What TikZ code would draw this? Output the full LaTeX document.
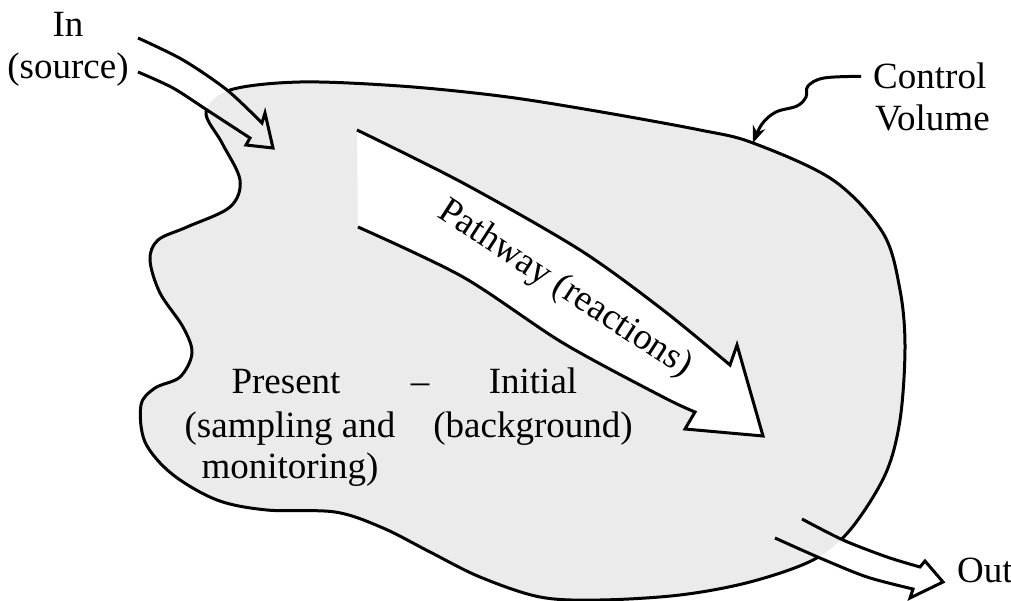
\documentclass[tikz,border=0pt]{standalone}
\usepackage{fontspec}
\setmainfont{Liberation Serif}
\usetikzlibrary{arrows.meta}
\definecolor{cvfill}{HTML}{EBEBEB}
\tikzset{
  outl/.style={line width=3pt, line join=miter, line cap=butt},
  txt/.style={font=\fontsize{37}{44}\selectfont, inner sep=0pt},
  pointer/.style={line width=3pt, -{Stealth[length=17pt,width=13pt]}},
}
\def\blobpath{plot[smooth cycle, tension=0.55] coordinates {
 (230,90) (300,82) (400,86) (500,96) (590,110) (700,130) (753,143) (833,180)
 (883,233) (900,290) (905,347) (900,420) (885,475) (850,530) (813,560) (750,582)
 (680,595) (600,600) (540,597) (480,577) (430,552) (383,528) (335,512) (267,510)
 (217,500) (172,474) (145,442) (141,405) (155,388) (180,377) (192,353) (183,327)
 (160,293) (150,260) (158,240) (187,227) (230,207) (240,180) (222,143) (206,112)}}
\def\inarrow{plot[smooth] coordinates {(138,38) (183,60) (227,90) (262,123)}
 -- (265,113) -- (273,148) -- (246,145) -- (250,138)
 -- plot[smooth] coordinates {(250,138) (207,110) (173,88) (138,72)}}
\def\outarrow{plot[smooth] coordinates {(802,519) (843,540) (887,557) (920,567)}
 -- (925,561) -- (943,582) -- (910,598) -- (913,589)
 -- plot[smooth] coordinates {(913,589) (867,577) (820,558) (775,538)}}
\def\bigarrow{plot[smooth] coordinates {(357,130) (463,183) (580,250) (663,310) (730,365)}
 -- (737,345) -- (763,436) -- (685,429) -- (695,412)
 -- plot[smooth] coordinates {(695,412) (663,397) (563,343) (463,277) (358,227)}}
\begin{document}
\begin{tikzpicture}[x=1pt,y=-1pt]
\useasboundingbox (0,0) rectangle (1011,601);
% control volume
\fill[cvfill] \blobpath;
\draw[outl] \blobpath;
% in arrow
\fill[white] \inarrow -- cycle;
\begin{scope}
 \clip \blobpath;
 \fill[cvfill] \inarrow -- cycle;
\end{scope}
\draw[outl] \inarrow;
% out arrow
\fill[white] \outarrow -- cycle;
\begin{scope}
 \clip \blobpath;
 \fill[cvfill] \outarrow -- cycle;
\end{scope}
\draw[outl] \outarrow;
% pathway arrow
\fill[white] \bigarrow -- cycle;
\draw[outl] \bigarrow;
% texts
\node[txt, anchor=base] (in) at (68,37) {In};
\node[txt, anchor=base] (src) at (68,79) {(source)};
\node[txt, anchor=base west, inner xsep=12pt] (ctrl) at (861,89) {Control};
\node[txt, anchor=base west] (vol) at (875,131) {Volume};
\node[txt, anchor=base west] (out) at (957,582) {Out};
\node[txt, anchor=base, rotate=-33] (pw) at (560,297) {Pathway (reactions)};
\node[txt, anchor=base] (pres) at (286,393) {Present};
\node[txt, anchor=base] (samp) at (290,437) {(sampling and};
\node[txt, anchor=base] (mon) at (290,478) {monitoring)};
\node[txt, anchor=base] (dash) at (420,393) {--};
\node[txt, anchor=base] (init) at (533,393) {Initial};
\node[txt, anchor=base] (bg) at (533,437) {(background)};
% pointer to the control volume boundary
\coordinate (cvtip) at (753,143);
\draw[pointer] plot[smooth, tension=0.6] coordinates {(ctrl.west) (824,78) (808,86) (806,97) (797,106) (776,112) (762,124) (cvtip)};
\end{tikzpicture}
\end{document}
